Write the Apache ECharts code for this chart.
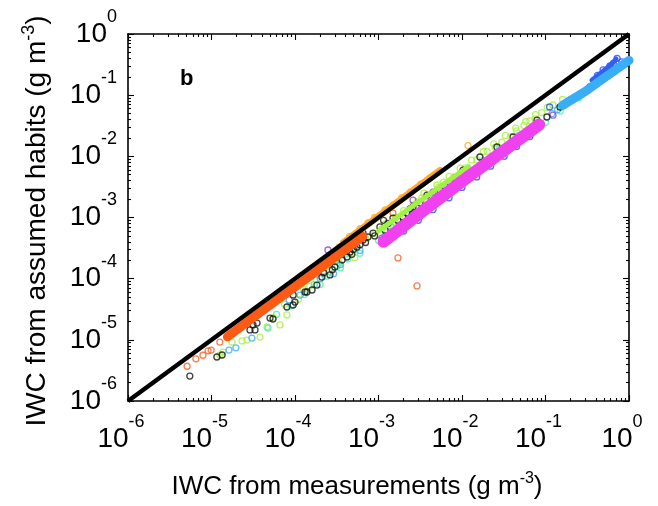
<!DOCTYPE html>
<html><head><meta charset="utf-8">
<script src="https://cdn.jsdelivr.net/npm/echarts@6/dist/echarts.min.js"></script>
<style>html,body{margin:0;padding:0;background:#fff}#c{width:658px;height:506px}</style>
</head><body><div id="c"></div>
<script>
const majorTicks = [1e-6, 1e-5, 1e-4, 1e-3, 1e-2, 1e-1, 1];
const tickExponents = ['-6', '-5', '-4', '-3', '-2', '-1', '0'];
const minorMultipliers = [2, 3, 4, 5, 6, 7, 8, 9];

const oneToOne = [[1e-6, 1e-6], [1, 1]];

const orangeBand = [[1.55e-5,1.12e-5],[3.0e-5,2.2e-5],[6.0e-5,4.4e-5],[1.2e-4,8.8e-5],[2.5e-4,1.85e-4],[6.5e-4,4.9e-4]];
const amberBand = [[3.8e-4,3.9e-4],[1e-3,1.05e-3],[3e-3,3.2e-3],[5.5e-3,5.9e-3]];
const limeBand = [[1.0e-3,6.0e-4],[2.5e-3,1.5e-3],[6e-3,3.5e-3],[1.2e-2,6.8e-3]];
const magentaBand = [[1.15e-3,4.0e-4],[3.0e-3,1.12e-3],[1.0e-2,3.9e-3],[3.0e-2,1.17e-2],[8.4e-2,3.3e-2]];
const lightBlueBand = [[1.6e-1,6.8e-2],[3.0e-1,1.15e-1],[5.0e-1,1.9e-1],[7.5e-1,2.8e-1],[1.0,3.7e-1]];
const blueBand = [[3.6e-1,1.75e-1],[4.8e-1,2.4e-1],[6.2e-1,3.2e-1],[7.0e-1,3.9e-1]];

const orangeDots = [[5.1e-6,3.7e-6],[6.5e-6,4.9e-6],[7.9e-6,5.6e-6],[9.1e-6,6.6e-6],[9.9e-6,6.8e-6],[1.26e-5,9.2e-6],[1.71e-3,2.18e-4],[2.89e-3,7.6e-5],[1.49e-3,1.18e-3]];
const amberDots = [[3.4e-4,3.3e-4],[4.5e-4,4.9e-4],[6.0e-4,6.6e-4],[7.5e-4,8.2e-4],[9.0e-4,1.0e-3],[1.2e-3,1.33e-3],[1.5e-3,1.6e-3],[1.9e-3,2.1e-3],[2.4e-3,2.6e-3],[3.2e-3,3.5e-3],[4.2e-3,4.5e-3],[1.18e-2,1.5e-2]];
const limeDots = [[1.76e-5,9.2e-6],[2.32e-5,9.6e-6],[2.66e-5,9.9e-6],[3.81e-5,1.11e-5],[4.62e-5,1.62e-5],[6.61e-5,1.75e-5],[8.0e-5,2.55e-5],[1.26e-5,5.65e-6],[1.37e-5,6.3e-6],
  [5.5e-5,2.3e-5],[7.5e-5,3.8e-5],[1.1e-4,4.6e-5],[1.25e-4,6.8e-5],[1.8e-4,9.5e-5],[2.6e-4,1.3e-4],[3.4e-4,1.8e-4],[4.5e-4,2.6e-4],[5.2e-4,2.2e-4],
  [1.5e-4,7.5e-5],[2.2e-4,1.3e-4],[3.0e-4,1.9e-4],[4.0e-4,2.5e-4],[5.5e-4,3.2e-4],[7.0e-4,4.6e-4],[9.0e-4,5.5e-4],[1.2e-3,7.8e-4],[1.5e-3,8.5e-4],[2.0e-3,1.3e-3],[2.6e-3,1.6e-3],[3.3e-3,2.1e-3],[4.5e-3,2.6e-3],[6.0e-3,3.8e-3],[8.0e-3,4.6e-3],[1.1e-2,6.5e-3],[1.5e-2,8.8e-3],[2.0e-2,1.2e-2],[3.0e-2,1.7e-2],[4.5e-2,2.6e-2],[6.5e-2,3.8e-2],[9.0e-2,5.2e-2],[1.23e-1,6.9e-2],[1.6e-1,8.5e-2],
  [1.1e-3,6.5e-4],[1.3e-3,7.0e-4],[1.6e-3,1.0e-3],[1.8e-3,9.5e-4],[2.3e-3,1.2e-3],[2.9e-3,1.8e-3],[3.7e-3,2.0e-3],[5.2e-3,3.1e-3],[2.5e-2,1.4e-2],[3.8e-2,2.1e-2],[5.5e-2,3.2e-2],[7.5e-2,4.1e-2],
  [3.5e-3,2.5e-3],[5e-3,3.4e-3],[7e-3,4.7e-3],[9.5e-3,6.4e-3],[1.3e-2,8.7e-3],[1.8e-2,1.2e-2],[2.4e-2,1.6e-2],[3.3e-2,2.2e-2],[4.4e-2,2.9e-2],[5.8e-2,3.7e-2],[7.6e-2,4.8e-2],[1.05e-1,6.3e-2]];
const mintDots = [[4.75e-5,1.56e-5],[6e-5,2.6e-5],[9e-5,3.6e-5],[1.3e-4,5.5e-5],[1.7e-4,8e-5],[2.4e-4,1.1e-4],[3.2e-4,1.6e-4],[4.3e-4,2.1e-4],
  [2.0e-4,8e-5],[3.5e-4,1.5e-4],[6.0e-4,2.6e-4],[1.0e-3,4.2e-4],[1.8e-3,7.5e-4],[3.0e-3,1.2e-3],[5.0e-3,2.0e-3],[8.0e-3,3.0e-3],[1.3e-2,5.0e-3],[2.2e-2,8.5e-3],[3.5e-2,1.3e-2],[6.0e-2,2.2e-2],[1.0e-1,3.6e-2],[1.5e-1,5.5e-2],[2.5e-1,9.0e-2],
  [1.4e-3,7.2e-4],[4.0e-3,2.2e-3],[9.0e-3,4.4e-3],[1.8e-2,8.6e-3],[2.8e-2,1.35e-2],[4.8e-2,2.2e-2],[8.0e-2,3.6e-2],[6.5e-3,3.3e-3],[1.2e-2,6.0e-3]];
const lightBlueDots = [[1.62e-5,6.8e-6],[1.96e-5,7.4e-6],[3.05e-5,1.07e-5],[8.5e-5,4.5e-5],[1.15e-4,5.4e-5],[2.0e-4,1.0e-4],[2.9e-4,1.2e-4],[3.5e-4,1.7e-4],[6e-4,2.9e-4],[1.2e-3,5.0e-4],[2.5e-3,1.1e-3],[5e-3,2.0e-3],[1e-2,4.2e-3],[2e-2,8e-3],[4e-2,1.6e-2],[7e-2,2.8e-2],[1.2e-1,5.0e-2],[1.4e-1,5.8e-2]];
const blueDots = [[2.0e-3,6.0e-4],[3.0e-3,9.0e-4],[4.5e-3,1.35e-3],[7.0e-3,2.1e-3],[1.0e-2,3.1e-3],[1.5e-2,4.6e-3],[2.2e-2,6.9e-3],[3.2e-2,1.0e-2],[4.5e-2,1.45e-2],[6.5e-2,2.1e-2],[1.12e-1,6.4e-2],[4.2e-1,2.1e-1],[4.9e-1,2.6e-1],[5.9e-1,3.0e-1],[6.5e-1,3.3e-1],[7.2e-1,4.0e-1],[8.2e-1,3.5e-1]];
const purpleDots = [[2.48e-4,2.94e-4],[1.1e-3,4.6e-4],[2.59e-3,1.93e-3],[4.5e-3,2.6e-3],[6.3e-3,3.15e-3],[6.5e-2,2.7e-2],[1.23e-1,4.7e-2]];
const blackDots = [[5.5e-6,2.56e-6],[1.16e-5,5.24e-6],[1.34e-5,5.65e-6],[2.89e-5,1.45e-5],[3.32e-5,1.45e-5],[3.14e-5,1.75e-5],[3.51e-5,1.88e-5],[5.02e-5,2.27e-5],[5.45e-5,2.19e-5],[8.0e-5,3.44e-5],[9.5e-5,3.71e-5],[1.0e-4,4.15e-5],[9.5e-5,5.41e-5],[1.39e-4,6.05e-5],[1.6e-4,6.53e-5],[1.32e-4,6.05e-5],[1.83e-4,7.87e-5],[2.1e-4,1.06e-4],[2.62e-4,1.15e-4],[3.0e-4,1.55e-4],[3.66e-4,2.02e-4],[4.2e-4,2.26e-4],[4.56e-4,2.73e-4],[5.53e-4,3.29e-4],[6.52e-4,4.29e-4],[7.48e-4,4.8e-4],[8.6e-4,5.57e-4],[6.52e-4,5.57e-4],[1.04e-3,7.0e-4],[1.49e-3,9.8e-4],[1.96e-3,1.02e-3],[2.19e-3,1.18e-3],[2.59e-3,1.49e-3],[3.14e-3,1.73e-3],[3.81e-3,2.33e-3],[5.45e-3,2.81e-3],[7.18e-3,3.66e-3],[8.24e-3,4.42e-3],[1.03e-2,5.97e-3],[1.64e-2,9.75e-3],[2.62e-2,1.42e-2],[4.08e-2,2.07e-2],[7.91e-2,3.92e-2],[1.04e-1,4.4e-2],[1.49e-1,6.4e-2],[1.96e-1,8.3e-2],[3.41e-1,1.36e-1],
  [4.8e-4,2.5e-4],[5.0e-4,3.0e-4],[6.0e-4,3.6e-4],[7.0e-4,3.9e-4],[9.0e-4,5.0e-4],[1.2e-3,6.2e-4],[1.3e-3,8.0e-4],[1.7e-3,9.0e-4],[2.4e-3,1.4e-3],[1.15e-3,9.0e-4],[2.2e-4,1.25e-4],[2.8e-4,1.4e-4]];

const minorTicks = [];
majorTicks.slice(0, -1).forEach(function (d) { minorMultipliers.forEach(function (m) { minorTicks.push(d * m); }); });

const FONT = '"Liberation Sans", Arial, Helvetica, sans-serif';

function expLabel(v) {
  const i = majorTicks.findIndex(function (t) { return Math.abs(Math.log10(t) - Math.log10(v)) < 1e-6; });
  return '{b|10}{e|' + (i >= 0 ? tickExponents[i] : '') + '}';
}
const richTick = {
  b: { fontSize: 28, fontFamily: FONT, color: '#000', lineHeight: 52 },
  e: { fontSize: 18, fontFamily: FONT, color: '#000', lineHeight: 23, verticalAlign: 'top' }
};

function axis(dim, pos, kind) {
  const isMajor = kind === 'major';
  return {
    type: 'log', logBase: 10, min: 1e-6, max: 1, position: pos, gridIndex: 0,
    axisLine: { show: isMajor, onZero: false, lineStyle: { color: '#000', width: 1.6 } },
    axisTick: { show: true, inside: true, length: isMajor ? 6 : 3, customValues: isMajor ? majorTicks : minorTicks, lineStyle: { color: '#000', width: 1.1 } },
    axisLabel: (isMajor && (pos === 'bottom' || pos === 'left')) ? {
      show: true, customValues: majorTicks, formatter: expLabel, rich: richTick,
      margin: dim === 'x' ? 12 : 11, padding: dim === 'x' ? [0, 14, 0, 0] : 0
    } : { show: false },
    splitLine: { show: false },
    minorTick: { show: false }, minorSplitLine: { show: false }
  };
}

function dots(data, color) {
  return { type: 'scatter', data: data, symbol: 'circle', symbolSize: 6, silent: true,
    itemStyle: { color: 'rgba(0,0,0,0)', borderColor: color, borderWidth: 1.3 } };
}
function band(data, color, width) {
  return { type: 'line', data: data, symbol: 'none', silent: true,
    lineStyle: { color: color, width: width, cap: 'round', join: 'round' } };
}

const chart = echarts.init(document.getElementById('c'), null, { renderer: 'canvas' });
chart.setOption({
  animation: false,
  backgroundColor: '#fff',
  grid: { left: 128, top: 34, width: 501, height: 367, containLabel: false },
  xAxis: [axis('x', 'bottom', 'major'), axis('x', 'bottom', 'minor'), axis('x', 'top', 'major'), axis('x', 'top', 'minor')],
  yAxis: [axis('y', 'left', 'major'), axis('y', 'left', 'minor'), axis('y', 'right', 'major'), axis('y', 'right', 'minor')],
  series: [
    dots(limeDots, '#a8f040'),
    dots(mintDots, '#48eeb0'),
    band(limeBand, '#a0f046', 5),
    band(amberBand, '#ffaa1e', 7),
    band(orangeBand, '#ff5a14', 9),
    dots(amberDots, '#ffaa1e'),
    dots(orangeDots, '#f4622a'),
    dots(lightBlueDots, '#38aef6'),
    band(blueBand, '#3060f0', 5),
    band(lightBlueBand, '#38aef6', 9),
    dots(blueDots, '#2848f4'),
    band(magentaBand, '#f040f0', 12),
    dots(purpleDots, '#9040c8'),
    dots(blackDots, '#111'),
    { type: 'line', data: oneToOne, symbol: 'none', silent: true, lineStyle: { color: '#000', width: 4.5 }, z: 5 }
  ],
  graphic: [
    { type: 'text', left: 180, top: 68, style: { text: 'b', font: 'bold 22px ' + FONT, fill: '#000' } },
    { type: 'text', x: 357, y: 487, style: { text: '{t|IWC from measurements (g m}{s|-3}{t|)}', align: 'center', verticalAlign: 'middle',
        rich: { t: { fontSize: 26, fontFamily: FONT, fill: '#000', lineHeight: 32 }, s: { fontSize: 16, fontFamily: FONT, fill: '#000', lineHeight: 16, verticalAlign: 'top' } } } },
    { type: 'text', x: 37, y: 221, rotation: Math.PI / 2, style: { text: '{t|IWC from assumed habits (g m}{s|-3}{t|)}', align: 'center', verticalAlign: 'middle',
        rich: { t: { fontSize: 28, fontFamily: FONT, fill: '#000', lineHeight: 34 }, s: { fontSize: 18, fontFamily: FONT, fill: '#000', lineHeight: 17, verticalAlign: 'top' } } } }
  ]
});
</script>
</body></html>
